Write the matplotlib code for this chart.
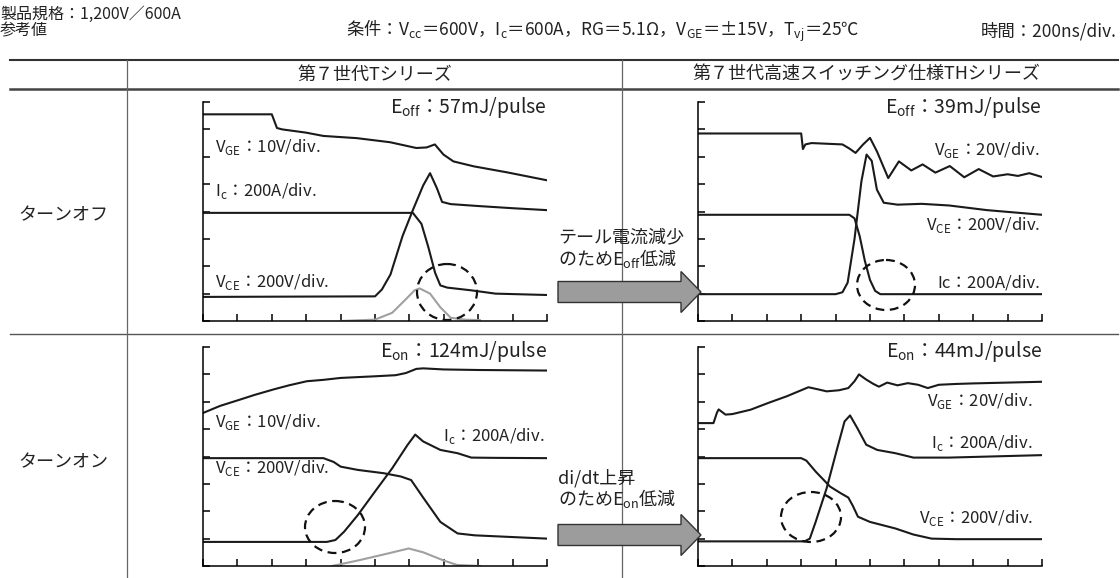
import matplotlib
matplotlib.use('Agg')
import matplotlib.pyplot as plt
from matplotlib.patches import Ellipse, FancyArrow

plt.rcParams['font.family'] = ['Noto Sans CJK JP', 'DejaVu Sans']
plt.rcParams['mathtext.fontset'] = 'custom'
plt.rcParams['mathtext.rm'] = 'Noto Sans CJK JP'

# waveforms read off the scope shots, in divisions (x: 0-10, y: 0-8)
# turn-off, T series
tl_vge_x = [0, 2.0, 2.15, 2.3, 3.0, 3.5, 4.47, 5.44, 6.2, 6.5, 6.74, 6.99, 7.28, 7.87, 8.84, 10]
tl_vge_y = [7.55, 7.55, 7.05, 7.0, 6.88, 6.76, 6.68, 6.53, 6.32, 6.34, 6.45, 6.08, 5.83, 5.65, 5.43, 5.14]
tl_ic_x = [0, 6.1, 6.35, 6.55, 6.75, 6.9, 7.1, 7.8, 8.5, 10]
tl_ic_y = [3.95, 3.95, 3.55, 2.7, 1.75, 1.3, 1.22, 1.12, 1.0, 0.95]
tl_vce_x = [0, 5.0, 5.2, 5.45, 5.8, 6.1, 6.4, 6.6, 6.8, 6.95, 7.2, 8.0, 9.0, 10]
tl_vce_y = [0.88, 0.9, 1.15, 1.7, 3.1, 4.05, 4.95, 5.4, 4.85, 4.35, 4.27, 4.2, 4.12, 4.05]
tl_loss_x = [4.0, 5.0, 5.5, 5.9, 6.15, 6.3, 6.6, 6.9, 7.2, 7.6, 8.05]
tl_loss_y = [0.0, 0.05, 0.3, 0.8, 1.12, 1.19, 1.0, 0.5, 0.12, 0.05, 0.03]

# turn-off, TH series
tr_vge_x = [0, 3.0, 3.05, 3.12, 3.3, 4.2, 4.4, 4.58, 4.8, 5.0, 5.2, 5.53, 5.84, 6.2, 6.53,
            6.9, 7.32, 7.74, 8.16, 8.58, 9.0, 9.3, 9.63, 10]
tr_vge_y = [6.85, 6.85, 6.28, 6.45, 6.5, 6.45, 6.3, 6.14, 6.45, 6.69, 6.2, 5.22, 5.83, 5.5, 5.72,
            5.42, 5.66, 5.25, 5.55, 5.28, 5.36, 5.3, 5.4, 5.26]
tr_vce_x = [0, 4.0, 4.2, 4.35, 4.55, 4.75, 4.9, 5.05, 5.2, 5.4, 5.8, 6.5, 7.3, 8.4, 10]
tr_vce_y = [0.98, 0.98, 1.05, 1.4, 3.0, 5.1, 6.08, 5.85, 4.8, 4.32, 4.25, 4.28, 4.22, 4.05, 3.88]
tr_ic_x = [0, 4.4, 4.55, 4.7, 4.85, 5.0, 5.15, 5.3, 10]
tr_ic_y = [3.88, 3.88, 3.75, 3.1, 2.2, 1.5, 1.1, 0.98, 0.98]

# turn-on, T series
bl_vge_x = [0, 0.5, 1.08, 1.5, 2.05, 2.5, 3.02, 3.5, 4.0, 4.5, 5.0, 5.6, 5.9, 6.2, 6.4, 7.0, 8.0, 10]
bl_vge_y = [5.59, 5.85, 6.08, 6.25, 6.45, 6.6, 6.75, 6.8, 6.87, 6.9, 6.93, 6.97, 7.05, 7.2, 7.22, 7.18, 7.16, 7.14]
bl_ic_x = [0, 3.6, 3.85, 4.1, 4.5, 5.0, 5.5, 5.95, 6.17, 6.4, 6.9, 7.4, 7.8, 8.5, 10]
bl_ic_y = [0.88, 0.88, 0.95, 1.25, 1.86, 2.72, 3.57, 4.43, 4.8, 4.55, 4.24, 4.12, 3.96, 3.95, 3.94]
bl_vce_x = [0, 3.5, 3.8, 4.0, 4.5, 5.25, 5.75, 6.05, 6.4, 6.9, 7.4, 7.9, 10]
bl_vce_y = [3.94, 3.94, 3.8, 3.63, 3.51, 3.39, 3.27, 3.14, 2.5, 1.61, 1.19, 1.12, 1.0]
bl_loss_x = [3.75, 4.5, 5.25, 5.98, 6.4, 7.0, 7.38, 8.06]
bl_loss_y = [0.0, 0.2, 0.42, 0.64, 0.5, 0.2, 0.04, 0.0]

# turn-on, TH series
br_vge_x = [0, 0.45, 0.55, 0.6, 0.8, 1.0, 1.53, 2.05, 2.58, 3.21, 3.5, 3.74, 4.1, 4.37, 4.55, 4.68,
            4.89, 5.1, 5.26, 5.5, 5.8, 6.1, 6.4, 6.68, 7.0, 7.5, 8.0, 9.0, 10]
br_vge_y = [5.22, 5.22, 5.6, 5.72, 5.53, 5.55, 5.71, 5.96, 6.2, 6.53, 6.45, 6.38, 6.42, 6.5, 6.75, 7.0,
            6.81, 6.65, 6.55, 6.7, 6.6, 6.68, 6.62, 6.5, 6.62, 6.65, 6.67, 6.7, 6.73]
br_ic_x = [0, 3.1, 3.25, 3.42, 3.74, 4.05, 4.26, 4.42, 4.63, 4.89, 5.21, 5.74, 6.26, 7.3, 10]
br_ic_y = [0.9, 0.9, 1.0, 1.61, 2.84, 4.31, 5.28, 5.5, 5.04, 4.43, 4.24, 4.12, 3.96, 3.96, 4.05]
br_vce_x = [0, 3.0, 3.15, 3.42, 3.84, 4.16, 4.37, 4.5, 4.65, 5.0, 5.74, 6.26, 6.79, 7.5, 10]
br_vce_y = [3.94, 3.94, 3.85, 3.45, 2.9, 2.65, 2.5, 2.2, 1.8, 1.61, 1.37, 1.15, 1.0, 0.98, 0.98]

W, H = 1120, 578
fig = plt.figure(figsize=(W / 100, H / 100), dpi=100)

DARK = '#1a1a1a'
GRAY = '#a0a0a0'


def scope(left, top, traces):
    ax = fig.add_axes([left / W, (H - top - 219) / H, 344 / W, 219 / H])
    ax.set_xlim(0, 10)
    ax.set_ylim(0, 8)
    ax.patch.set_alpha(0)
    ax.spines['top'].set_visible(False)
    ax.spines['right'].set_visible(False)
    ax.spines['left'].set_linewidth(1.1)
    ax.spines['bottom'].set_linewidth(1.1)
    ax.set_xticks(range(11))
    ax.set_yticks(range(9))
    ax.tick_params(direction='in', length=5, width=1.1,
                   labelbottom=False, labelleft=False)
    for x, y, c in traces:
        ax.plot(x, y, color=c, lw=1.5, solid_joinstyle='round')
    return ax


scope(203, 102, [(tl_loss_x, tl_loss_y, GRAY), (tl_vge_x, tl_vge_y, DARK),
                 (tl_ic_x, tl_ic_y, DARK), (tl_vce_x, tl_vce_y, DARK)])
scope(698, 102, [(tr_vge_x, tr_vge_y, DARK), (tr_vce_x, tr_vce_y, DARK),
                 (tr_ic_x, tr_ic_y, DARK)])
scope(203, 347, [(bl_loss_x, bl_loss_y, GRAY), (bl_vge_x, bl_vge_y, DARK),
                 (bl_ic_x, bl_ic_y, DARK), (bl_vce_x, bl_vce_y, DARK)])
scope(698, 347, [(br_vge_x, br_vge_y, DARK), (br_ic_x, br_ic_y, DARK),
                 (br_vce_x, br_vce_y, DARK)])

# overlay in pixel coordinates for the table, text, arrows and circles
ov = fig.add_axes([0, 0, 1, 1])
ov.set_xlim(0, W)
ov.set_ylim(H, 0)
ov.axis('off')

ov.plot([10, 1118], [60, 60], color='#333333', lw=1.5)
ov.plot([10, 1118], [89, 89], color='#444444', lw=1.8)
ov.plot([10, 1118], [334, 334], color='#555555', lw=1.0)
ov.plot([127, 127], [60, 578], color='#666666', lw=0.9)
ov.plot([622, 622], [60, 578], color='#666666', lw=0.9)

TXT = '#222222'
ov.text(0, 14, '製品規格：1,200V／600A', fontsize=11.5, color=TXT, va='center')
ov.text(0, 31, '参考値', fontsize=11.5, color=TXT, va='center')
ov.text(603, 31, r'条件：$\mathrm{V}_{\mathrm{cc}}$＝600V，$\mathrm{I}_{\mathrm{c}}$＝600A，RG＝5.1Ω，'
        r'$\mathrm{V}_{\mathrm{GE}}$＝±15V，$\mathrm{T}_{\mathrm{vj}}$＝25℃',
        fontsize=12.5, color=TXT, va='center', ha='center')
ov.text(1117, 31, '時間：200ns/div.', fontsize=12.5, color=TXT, va='center', ha='right')

ov.text(375, 75, '第７世代Tシリーズ', fontsize=13, color=TXT, va='center', ha='center')
ov.text(866, 75, '第７世代高速スイッチング仕様THシリーズ', fontsize=13, color=TXT,
        va='center', ha='center')
ov.text(63, 215, 'ターンオフ', fontsize=13, color=TXT, va='center', ha='center')
ov.text(63, 462, 'ターンオン', fontsize=13, color=TXT, va='center', ha='center')

E_FS = 14
L_FS = 12
vge = r'$\mathrm{V}_{\mathrm{GE}}$'
vce = r'$\mathrm{V}_{\mathrm{CE}}$'
ic = r'$\mathrm{I}_{\mathrm{c}}$'

# turn-off labels
ov.text(547, 107, r'$\mathrm{E}_{\mathrm{off}}$：57mJ/pulse', fontsize=E_FS, color=TXT, va='center', ha='right')
ov.text(215, 147, vge + '：10V/div.', fontsize=L_FS, color=TXT, va='center')
ov.text(215, 191, ic + '：200A/div.', fontsize=L_FS, color=TXT, va='center')
ov.text(215, 282, vce + '：200V/div.', fontsize=L_FS, color=TXT, va='center')
ov.text(1042, 107, r'$\mathrm{E}_{\mathrm{off}}$：39mJ/pulse', fontsize=E_FS, color=TXT, va='center', ha='right')
ov.text(1040, 150, vge + '：20V/div.', fontsize=L_FS, color=TXT, va='center', ha='right')
ov.text(1040, 225, vce + '：200V/div.', fontsize=L_FS, color=TXT, va='center', ha='right')
ov.text(1040, 283, 'Ic：200A/div.', fontsize=L_FS, color=TXT, va='center', ha='right')

# turn-on labels
ov.text(547, 352, r'$\mathrm{E}_{\mathrm{on}}$：124mJ/pulse', fontsize=E_FS, color=TXT, va='center', ha='right')
ov.text(215, 422, vge + '：10V/div.', fontsize=L_FS, color=TXT, va='center')
ov.text(545, 436, ic + '：200A/div.', fontsize=L_FS, color=TXT, va='center', ha='right')
ov.text(215, 468, vce + '：200V/div.', fontsize=L_FS, color=TXT, va='center')
ov.text(1042, 352, r'$\mathrm{E}_{\mathrm{on}}$：44mJ/pulse', fontsize=E_FS, color=TXT, va='center', ha='right')
ov.text(1033, 401, vge + '：20V/div.', fontsize=L_FS, color=TXT, va='center', ha='right')
ov.text(1033, 443, ic + '：200A/div.', fontsize=L_FS, color=TXT, va='center', ha='right')
ov.text(1033, 518, vce + '：200V/div.', fontsize=L_FS, color=TXT, va='center', ha='right')

# arrows and their notes
for yc in (292, 535):
    ov.add_patch(FancyArrow(558, yc, 143, 0, width=21, head_width=41, head_length=20,
                            length_includes_head=True, facecolor='#9c9c9c',
                            edgecolor='#333333', lw=1.0, zorder=5))
ov.text(558, 237, 'テール電流減少', fontsize=13, color=TXT, va='center')
ov.text(558, 258, r'のため$\mathrm{E}_{\mathrm{off}}$低減', fontsize=13, color=TXT, va='center')
ov.text(558, 478, 'di/dt上昇', fontsize=13, color=TXT, va='center')
ov.text(558, 499, r'のため$\mathrm{E}_{\mathrm{on}}$低減', fontsize=13, color=TXT, va='center')

# dashed circles marking the tail / di/dt regions
for cx, cy, w, h in [(447, 292, 60, 56), (886, 285, 58, 50), (335, 527, 60, 52), (811, 517, 60, 50)]:
    ov.add_patch(Ellipse((cx, cy), w, h, fill=False, edgecolor='#111111', lw=1.6,
                         linestyle=(0, (4, 2.5)), zorder=6))

fig.savefig('out.png', dpi=100)
